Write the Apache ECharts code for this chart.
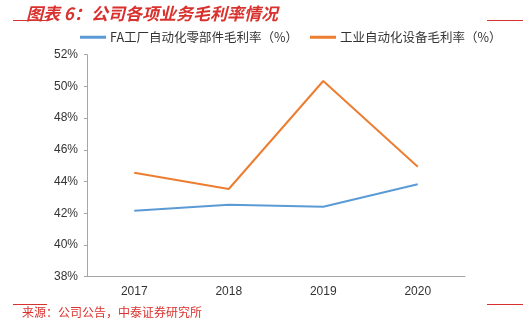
<!DOCTYPE html>
<html><head><meta charset="utf-8">
<script src="https://cdn.jsdelivr.net/npm/echarts@6/dist/echarts.min.js"></script>
<style>html,body{margin:0;padding:0;background:#fff}#c{width:523px;height:325px}</style>
</head><body><div id="c"></div>
<script>
var categories = ['2017', '2018', '2019', '2020'];
var seriesNames = ['FA工厂自动化零部件毛利率（%）', '工业自动化设备毛利率（%）'];
var faValues = [42.16, 42.54, 42.41, 43.83];
var equipValues = [44.56, 43.53, 50.34, 44.94];
var yTicks = [38, 40, 42, 44, 46, 48, 50, 52];

var chart = echarts.init(document.getElementById('c'));
var red = '#d9322e';
var cjk = '"Noto Sans CJK SC", sans-serif';
chart.setOption({
  animation: false,
  title: {
    text: '图表 6：公司各项业务毛利率情况',
    left: 21, top: 0,
    textStyle: { color: red, fontSize: 17, fontWeight: 'bold', fontStyle: 'italic', fontFamily: cjk }
  },
  graphic: [
    { type: 'line', shape: { x1: 13, y1: 20.5, x2: 47, y2: 20.5 }, style: { stroke: red, lineWidth: 1 } },
    { type: 'line', shape: { x1: 487, y1: 20.5, x2: 523, y2: 20.5 }, style: { stroke: red, lineWidth: 1 } },
    { type: 'line', shape: { x1: 13, y1: 304.5, x2: 47, y2: 304.5 }, style: { stroke: red, lineWidth: 1 } },
    { type: 'line', shape: { x1: 487, y1: 304.5, x2: 523, y2: 304.5 }, style: { stroke: red, lineWidth: 1 } },
    { type: 'text', left: 22, top: 306, style: { text: '来源：公司公告，中泰证券研究所', fill: red, fontSize: 12, fontFamily: cjk } }
  ],
  legend: {
    top: 26, left: 75,
    itemWidth: 26, itemHeight: 3, itemGap: 12,
    icon: 'rect',
    textStyle: { color: '#333', fontSize: 12.5, fontFamily: cjk, padding: [0, 0, 0, -1] },
    data: seriesNames
  },
  grid: { left: 87, right: 58, top: 54.7, bottom: 48.3 },
  xAxis: {
    type: 'category', data: categories, boundaryGap: true,
    axisLine: { lineStyle: { color: '#a6a6a6' } },
    axisTick: { inside: true, length: 3, lineStyle: { color: '#a6a6a6' } },
    axisLabel: { color: '#333', fontSize: 12, fontFamily: 'Liberation Sans, Arial', margin: 9 }
  },
  yAxis: {
    type: 'value', min: yTicks[0], max: yTicks[yTicks.length - 1], interval: 2,
    axisLine: { show: true, lineStyle: { color: '#a6a6a6' } },
    axisTick: { show: true, length: 3, lineStyle: { color: '#a6a6a6' } },
    splitLine: { show: false },
    axisLabel: { color: '#333', fontSize: 12, fontFamily: 'Liberation Sans, Arial', margin: 9, formatter: '{value}%' }
  },
  series: [
    { name: seriesNames[0], type: 'line', data: faValues, symbol: 'none', lineStyle: { color: '#5b9bd5', width: 2 }, itemStyle: { color: '#5b9bd5' } },
    { name: seriesNames[1], type: 'line', data: equipValues, symbol: 'none', lineStyle: { color: '#ed7d31', width: 2 }, itemStyle: { color: '#ed7d31' } }
  ]
});
</script></body></html>
